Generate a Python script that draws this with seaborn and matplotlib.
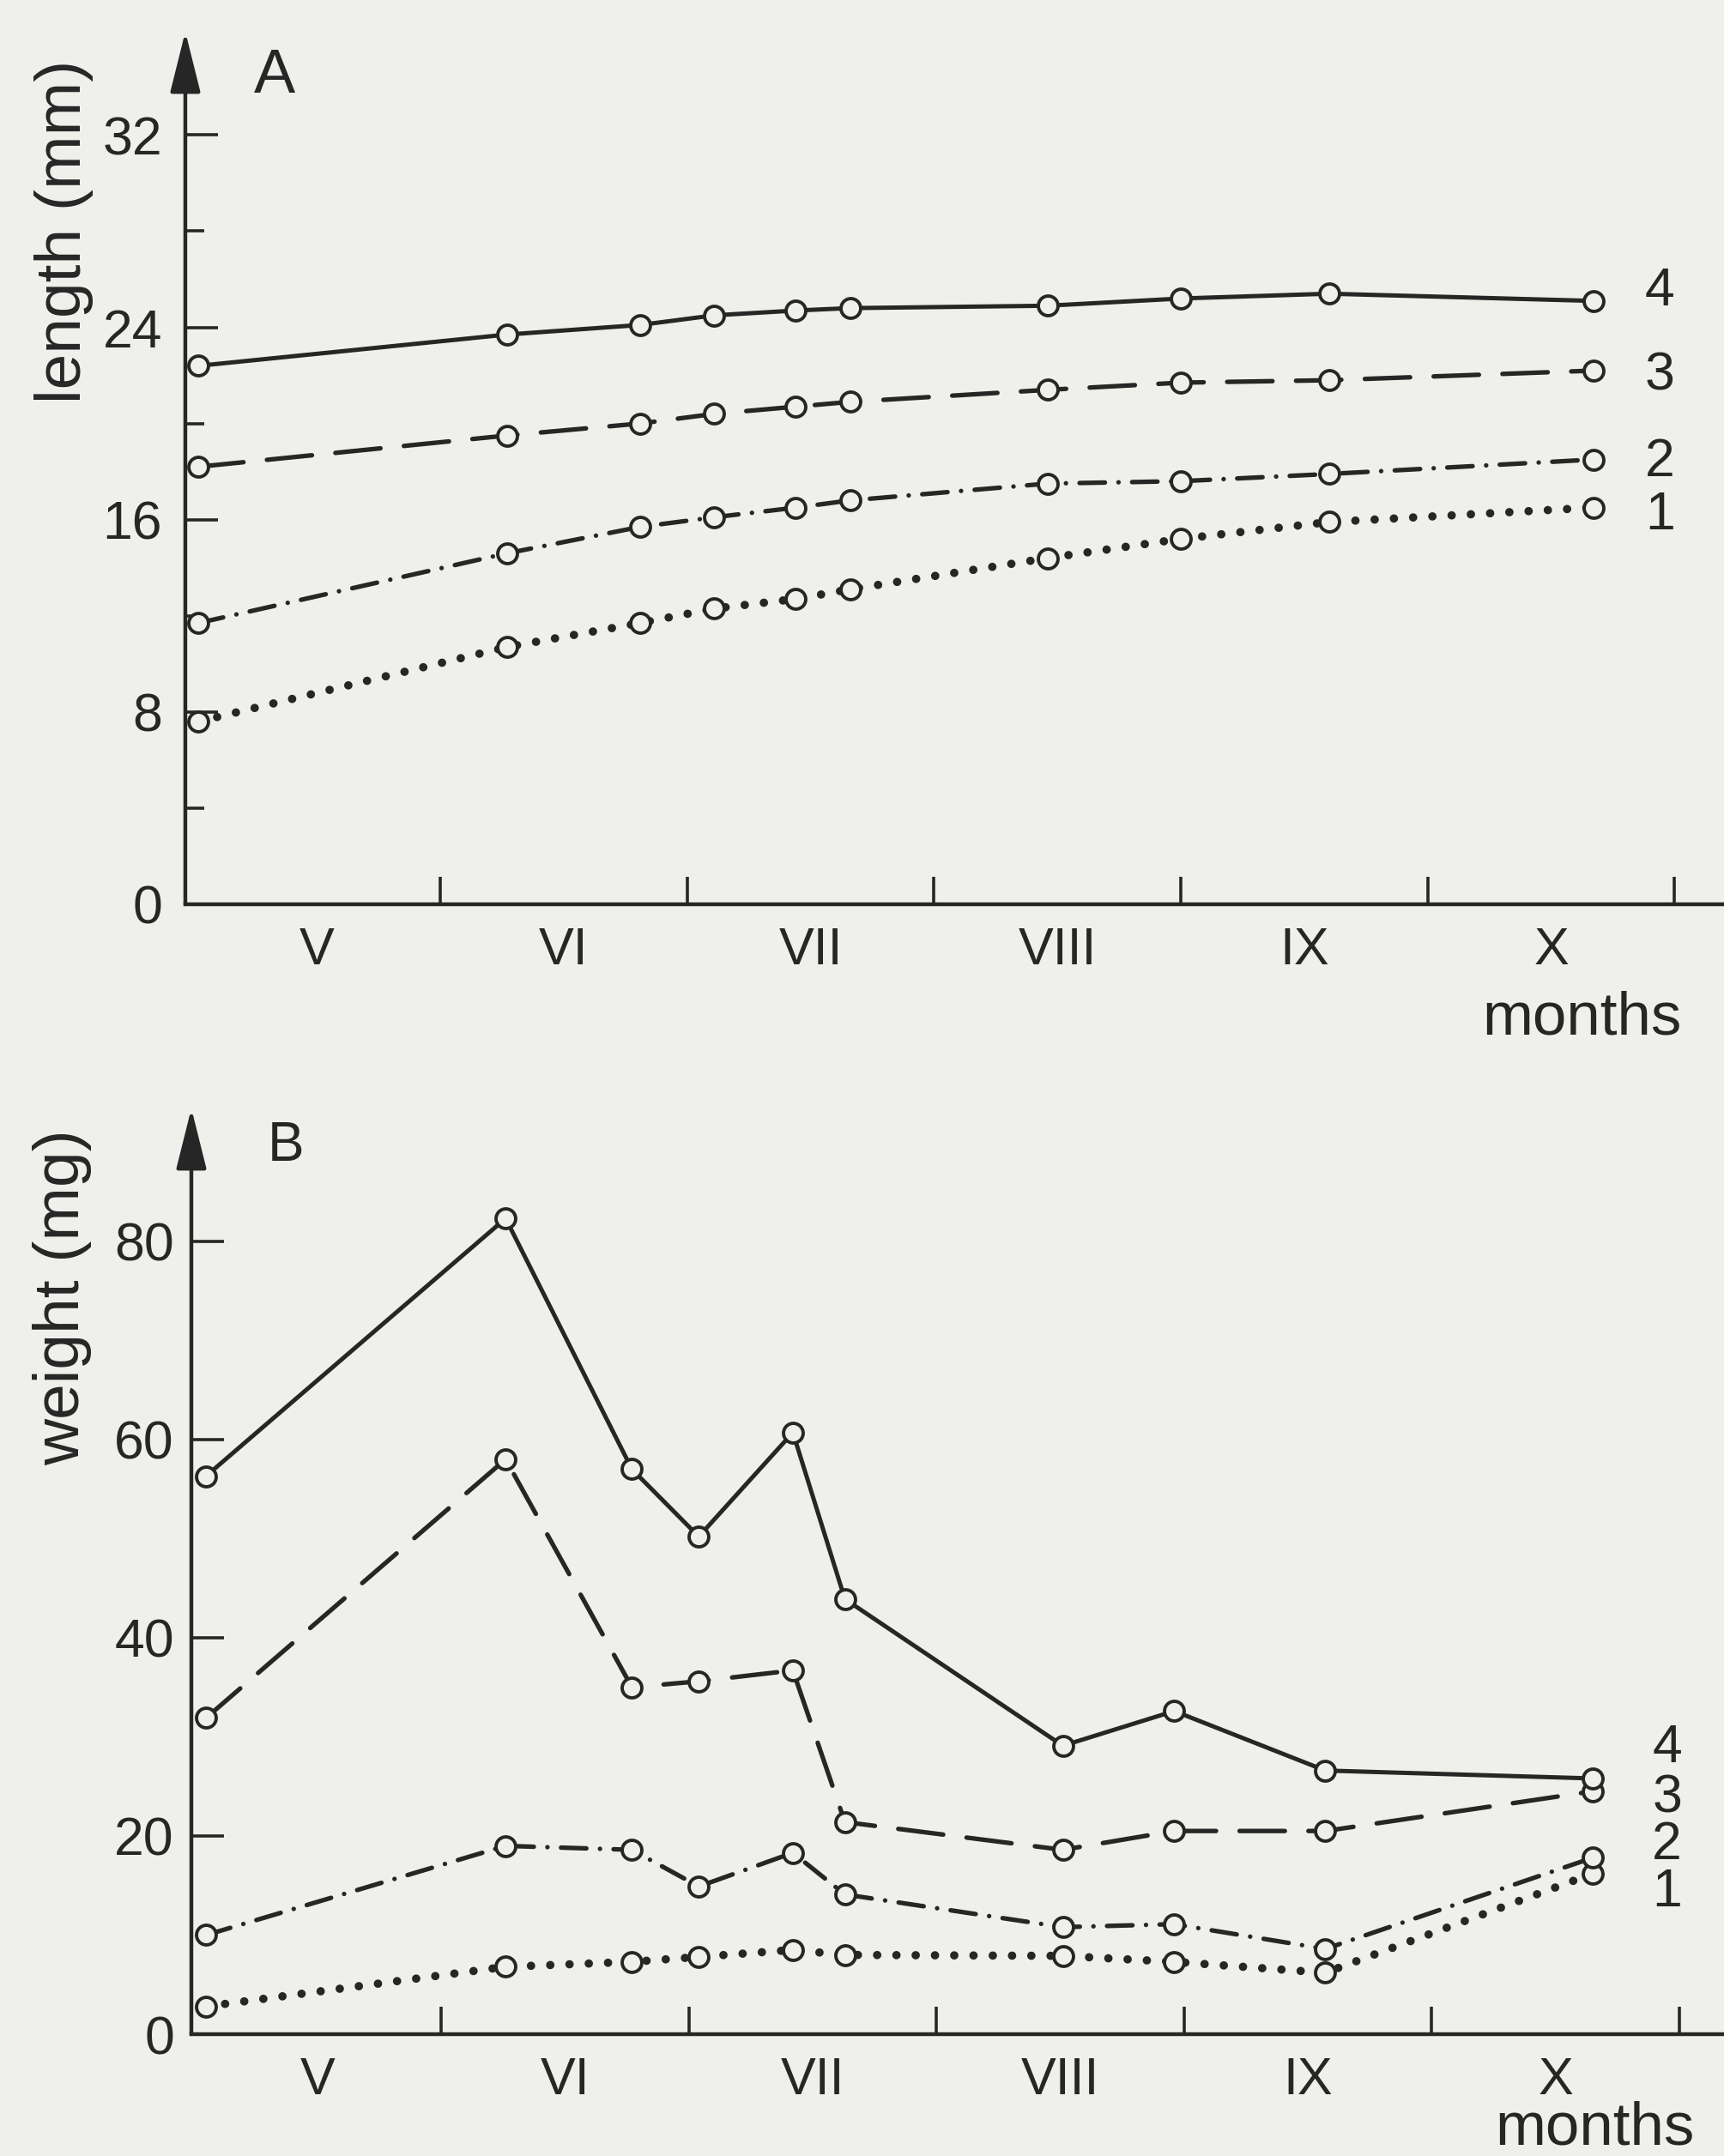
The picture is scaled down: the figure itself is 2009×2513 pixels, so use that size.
from matplotlib import pyplot as plt
import seaborn as sns
import pandas as pd

# sampling dates, in months counted from 1 May
a_month = [0.02, 1.27, 1.81, 2.11, 2.44, 2.66, 3.46, 4.00, 4.60, 5.67]
b_month = [0.05, 1.26, 1.77, 2.04, 2.42, 2.63, 3.51, 3.96, 4.57, 5.65]

# A: body length (mm) of the four groups
a_len_1 = [7.6, 10.7, 11.7, 12.3, 12.7, 13.1, 14.4, 15.2, 15.9, 16.5]
a_len_2 = [11.7, 14.6, 15.7, 16.1, 16.5, 16.8, 17.5, 17.6, 17.9, 18.5]
a_len_3 = [18.2, 19.5, 20.0, 20.4, 20.7, 20.9, 21.4, 21.7, 21.8, 22.2]
a_len_4 = [22.4, 23.7, 24.1, 24.5, 24.7, 24.8, 24.9, 25.2, 25.4, 25.1]

# B: body weight (mg) of the four groups
b_wt_1 = [2.8, 6.8, 7.3, 7.8, 8.5, 8.0, 7.9, 7.3, 6.2, 16.2]
b_wt_2 = [10.0, 19.0, 18.6, 14.9, 18.3, 14.1, 10.8, 11.1, 8.6, 17.8]
b_wt_3 = [31.9, 58.0, 35.0, 35.6, 36.7, 21.4, 18.6, 20.5, 20.5, 24.5]
b_wt_4 = [56.3, 82.3, 57.0, 50.2, 60.7, 43.9, 29.1, 32.6, 26.6, 25.8]

groups = ['1', '2', '3', '4']
month_names = ['V', 'VI', 'VII', 'VIII', 'IX', 'X']

paper = '#efefeb'
ink = '#262626'

sns.set_style('ticks', rc={'axes.facecolor': paper, 'figure.facecolor': paper})
plt.rcParams['font.family'] = ['Liberation Sans', 'DejaVu Sans']

# line look per group: dotted, dash-dot, long dash, solid
line_styles = {'1': (0, (0.01, 2.3)), '2': (0, (5.6, 3.0, 0.01, 3.0)),
               '3': (0, (10.0, 5.2)), '4': '-'}
line_widths = {'1': 7.0, '2': 3.8, '3': 3.8, '4': 3.6}


def draw_panel(ax, months, values, xlim, ylim, yticks, yminor, ypad, label_x, label_y):
    for g, vals in zip(groups, values):
        df = pd.DataFrame({'month': months, 'value': vals})
        sns.lineplot(data=df, x='month', y='value', color=ink,
                     linestyle=line_styles[g], linewidth=line_widths[g],
                     dash_capstyle='round', marker='o', markersize=16.5,
                     markeredgewidth=2.8, markeredgecolor=ink,
                     markerfacecolor=paper, errorbar=None, ax=ax)
    ax.set_xlim(*xlim)
    ax.set_ylim(*ylim)
    ax.set_xlabel('')
    ax.set_ylabel('')

    # month borders as ticks, month names in between
    ax.set_xticks(range(1, 7))
    ax.set_xticklabels([])
    ax.set_xticks([m + 0.5 for m in range(6)], minor=True)
    ax.set_xticklabels(month_names, minor=True)
    ax.tick_params(axis='x', which='major', direction='in', length=23, width=2.6, color=ink)
    ax.tick_params(axis='x', which='minor', length=0, pad=19, labelsize=44, labelcolor=ink)

    ax.set_yticks(yticks)
    ax.set_yticks(yminor, minor=True)
    ax.tick_params(axis='y', which='major', direction='in', length=27, width=2.6,
                   color=ink, pad=ypad, labelsize=45, labelcolor=ink)
    ax.tick_params(axis='y', which='minor', direction='in', length=16, width=2.6, color=ink)

    for side in ['top', 'right', 'left']:
        ax.spines[side].set_visible(False)
    ax.spines['bottom'].set_linewidth(3.2)
    ax.spines['bottom'].set_color(ink)

    # y axis drawn as an arrow
    ax.annotate('', xy=(0, 1), xytext=(0, 0), xycoords='axes fraction',
                textcoords='axes fraction', annotation_clip=False,
                arrowprops=dict(arrowstyle='-|>,head_length=4.4,head_width=1.1',
                                lw=3.2, color=ink, shrinkA=0, shrinkB=0,
                                mutation_scale=10))

    for g, y in zip(groups, label_y):
        ax.text(label_x, y, g, ha='center', va='center', fontsize=45, color=ink)


fig = plt.figure(figsize=(20.09, 25.13), dpi=100)

ax_a = fig.add_axes([0.1075, 0.5806, 0.8925, 0.4047])
draw_panel(ax_a, a_month, [a_len_1, a_len_2, a_len_3, a_len_4],
           (-0.033, 6.2), (0, 36.3), [0, 8, 16, 24, 32], [4, 12, 20, 28], 19.5,
           5.94, [16.2, 18.4, 22.0, 25.5])

ax_b = fig.add_axes([0.111, 0.0565, 0.889, 0.4294])
draw_panel(ax_b, b_month, [b_wt_1, b_wt_2, b_wt_3, b_wt_4],
           (-0.009, 6.18), (0, 93.4), [0, 20, 40, 60, 80], [], 14.4,
           5.95, [14.3, 19.1, 23.8, 28.9])

fig.text(0.0373, 0.8926, 'length (mm)', rotation=90, ha='center', va='center', fontsize=54, color=ink)
fig.text(0.0363, 0.3983, 'weight (mg)', rotation=90, ha='center', va='center', fontsize=54, color=ink)
fig.text(0.1593, 0.9642, 'A', ha='center', va='center', fontsize=52, color=ink)
fig.text(0.1658, 0.4684, 'B', ha='center', va='center', fontsize=46, color=ink)
fig.text(0.9174, 1 - 1205 / 2513, 'months', ha='center', va='baseline', fontsize=51, color=ink)
fig.text(0.9253, 1 - 2500 / 2513, 'months', ha='center', va='baseline', fontsize=51, color=ink)

plt.savefig('out.png', dpi=100, facecolor=paper)
